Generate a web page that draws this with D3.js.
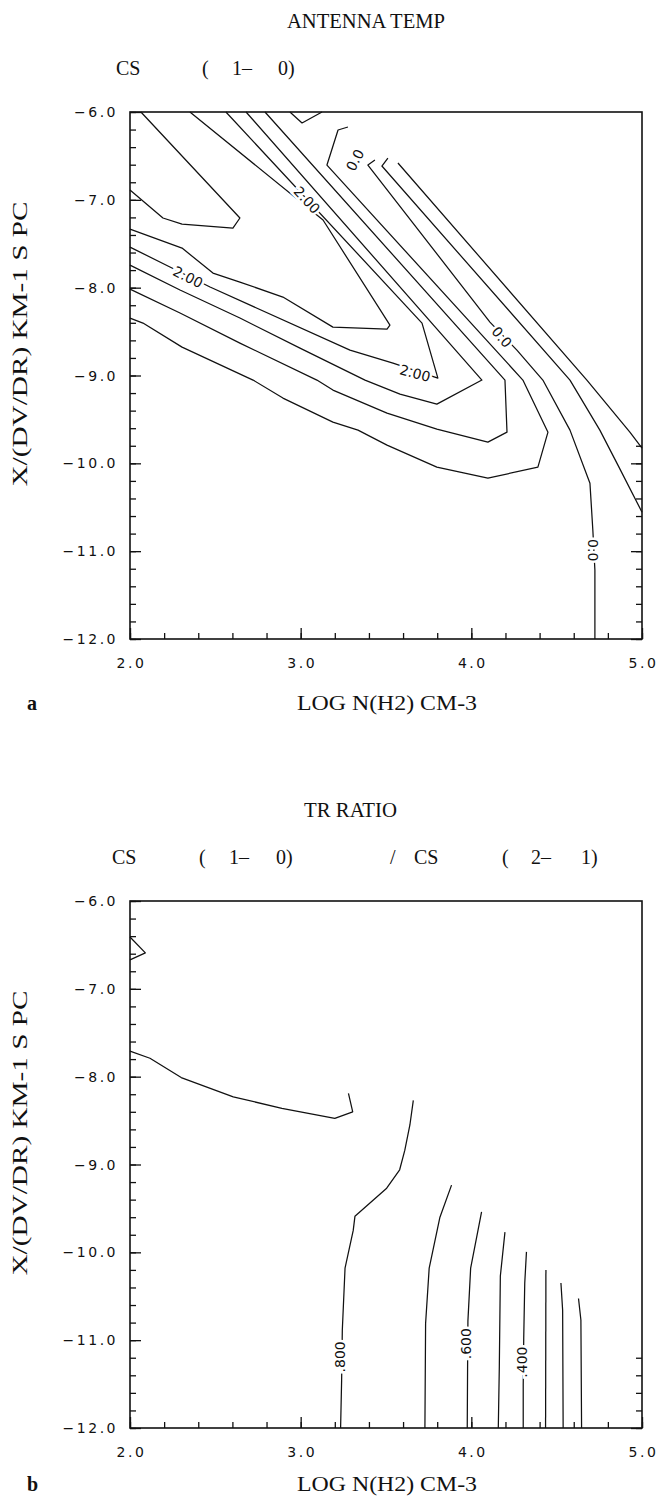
<!DOCTYPE html>
<html>
<head>
<meta charset="utf-8">
<script src="https://cdn.jsdelivr.net/npm/d3@7"></script>
<style>
  body { margin: 0; background: #fff; }
  svg { display: block; }
  .serif { font-family: "Liberation Serif", "DejaVu Serif", serif; fill: #111; font-size: 20px; }
  .tick-lab { font-family: "DejaVu Sans", sans-serif; font-size: 14px; letter-spacing: 2.5px; fill: #111; }
  .clab { font-family: "DejaVu Sans", sans-serif; font-size: 14px; fill: #111;
          stroke: #fff; stroke-width: 5px; paint-order: stroke; }
</style>
</head>
<body>
<div id="chart"></div>
<script>
// axis values, shared by both panels
const xTickValues = [2, 3, 4, 5];
const xTickLabels = ["2.0", "3.0", "4.0", "5.0"];
const yTickValues = [-6, -7, -8, -9, -10, -11, -12];
const yTickLabels = ["\u22126.0", "\u22127.0", "\u22128.0", "\u22129.0", "\u221210.0", "\u221211.0", "\u221212.0"];

// panel a : antenna temperature CS(1-0), contour polylines [log n, log X/(dv/dr)]
const contoursA = [
  [[2.0,-6.888],[2.193,-7.207],[2.305,-7.276],[2.603,-7.321],[2.644,-7.207],[2.064,-6.0]],
  [[2.0,-7.333],[2.305,-7.549],[2.486,-7.834],[2.644,-7.936],[2.896,-8.107],[3.189,-8.449],[3.506,-8.472],[3.523,-8.426],[3.131,-7.230],[2.351,-6.0]],
  [[2.0,-7.538],[2.234,-7.765],[2.469,-7.993],[3.289,-8.711],[3.541,-8.859],[3.804,-9.030],[3.711,-8.403],[2.562,-6.0]],
  [[2.0,-7.743],[2.293,-8.027],[2.644,-8.346],[2.996,-8.688],[3.377,-9.052],[3.582,-9.212],[3.798,-9.326],[4.062,-9.052],[2.680,-6.0]],
  [[2.0,-8.016],[2.293,-8.289],[2.644,-8.631],[3.095,-9.052],[3.189,-9.166],[3.506,-9.428],[3.798,-9.610],[4.097,-9.759],[4.209,-9.645],[4.197,-9.052],[2.791,-6.0]],
  [[2.0,-8.346],[2.076,-8.403],[2.305,-8.677],[2.721,-9.052],[2.896,-9.257],[3.189,-9.531],[3.336,-9.622],[3.506,-9.793],[3.798,-10.043],[4.097,-10.169],[4.390,-10.043],[4.449,-9.645],[4.302,-9.052],[3.154,-6.604],[3.219,-6.205],[3.277,-6.171]],
  [[3.435,-6.547],[3.394,-6.604],[4.109,-8.392],[4.267,-8.711],[4.419,-9.052],[4.578,-9.622],[4.695,-10.226],[4.712,-10.761],[4.724,-11.216],[4.724,-12.0]],
  [[3.511,-6.524],[3.476,-6.615],[4.578,-9.052],[4.753,-9.622],[4.859,-10.020],[5.0,-10.556]],
  [[3.570,-6.581],[4.677,-9.052],[4.929,-9.645],[5.0,-9.827]],
  [[2.937,-6.0],[3.008,-6.125],[3.125,-6.0]]
];
const labelsA = [
  {text: "2.00", at: [2.340,-7.879], rot: 27},
  {text: "2.00", at: [3.037,-7.002], rot: 47},
  {text: "2.00", at: [3.670,-8.973], rot: 15},
  {text: "0.0",  at: [3.318,-6.547], rot: -62},
  {text: "0.0",  at: [4.179,-8.563], rot: 50},
  {text: "0.0",  at: [4.712,-10.989], rot: 90}
];

// panel b : TR ratio CS(1-0)/CS(2-1)
const contoursB = [
  [[2.0,-6.41],[2.09,-6.59],[2.0,-6.67]],
  [[2.0,-7.71],[2.117,-7.79],[2.30,-8.01],[2.605,-8.23],[2.89,-8.36],[3.20,-8.475],[3.305,-8.40],[3.28,-8.19]],
  [[3.234,-12.0],[3.24,-11.455],[3.244,-10.886],[3.26,-10.18],[3.308,-9.75],[3.318,-9.59],[3.504,-9.27],[3.58,-9.06],[3.61,-8.84],[3.64,-8.55],[3.66,-8.27]],
  [[3.728,-12.0],[3.732,-10.81],[3.753,-10.18],[3.816,-9.60],[3.884,-9.235]],
  [[3.976,-12.0],[3.978,-11.32],[3.98,-10.78],[3.996,-10.18],[4.06,-9.54]],
  [[4.158,-12.0],[4.164,-11.30],[4.17,-10.27],[4.197,-9.77]],
  [[4.304,-12.0],[4.304,-11.51],[4.307,-10.98],[4.313,-10.35],[4.323,-9.995]],
  [[4.435,-12.0],[4.437,-10.20]],
  [[4.538,-12.0],[4.535,-10.66],[4.525,-10.35]],
  [[4.646,-12.0],[4.642,-10.77],[4.628,-10.525]]
];
const labelsB = [
  {text: ".800", at: [3.232,-11.19], rot: -90},
  {text: ".600", at: [3.970,-11.04], rot: -90},
  {text: ".400", at: [4.298,-11.25], rot: -90}
];

const W = 658, H = 1496;
const left = 130, right = 642, plotH = 527;

var svg = d3.select("#chart").append("svg")
  .attr("width", W).attr("height", H);

var x = d3.scaleLinear().domain([2, 5]).range([left, right]);

function drawPanel(p, contours, labels) {
  var top = p.top;
  var y = d3.scaleLinear().domain([-6, -12]).range([top, top + plotH]);
  var g = svg.append("g");

  // titles
  g.append("text").attr("class", "serif")
    .attr("x", p.title.x).attr("y", top - 84)
    .attr("textLength", p.title.w).attr("lengthAdjust", "spacingAndGlyphs")
    .text(p.title.text);
  p.subtitle.forEach(function(s) {
    g.append("text").attr("class", "serif")
      .attr("x", s[1]).attr("y", top - 37)
      .text(s[0]);
  });

  // frame
  g.append("rect")
    .attr("x", left).attr("y", top)
    .attr("width", right - left).attr("height", plotH)
    .attr("fill", "none").attr("stroke", "#111").attr("stroke-width", 1.6);

  // ticks, pointing into the plot (right side only shows them low down)
  var minorX = d3.range(2, 5.001, 0.2), minorY = d3.range(-6, -12.001, -0.2);
  var rightMinor = minorY.filter(function(v) { return v <= p.rightFrom + 0.001; });
  var rightMajor = yTickValues.filter(function(v) { return v <= p.rightFrom; });
  var axes = [
    [d3.axisBottom(x).tickValues(minorX).tickSize(-6), "translate(0," + (top + plotH) + ")"],
    [d3.axisBottom(x).tickValues(xTickValues).tickSize(-11), "translate(0," + (top + plotH) + ")"],
    [d3.axisLeft(y).tickValues(minorY).tickSize(-6), "translate(" + left + ",0)"],
    [d3.axisLeft(y).tickValues(yTickValues).tickSize(-11), "translate(" + left + ",0)"],
    [d3.axisRight(y).tickValues(rightMinor).tickSize(-6), "translate(" + right + ",0)"],
    [d3.axisRight(y).tickValues(rightMajor).tickSize(-11), "translate(" + right + ",0)"]
  ];
  axes.forEach(function(a) {
    var ax = g.append("g").attr("transform", a[1]).call(a[0].tickFormat(""));
    ax.select(".domain").remove();
    ax.selectAll("line").attr("stroke", "#111").attr("stroke-width", 1.3);
  });

  // tick labels
  g.selectAll(".xl").data(xTickValues).enter().append("text")
    .attr("class", "tick-lab")
    .attr("x", function(d) { return x(d) + 1.5; })
    .attr("y", top + plotH + 29)
    .attr("text-anchor", "middle")
    .text(function(d, i) { return xTickLabels[i]; });
  g.selectAll(".yl").data(yTickValues).enter().append("text")
    .attr("class", "tick-lab")
    .attr("x", left - 12)
    .attr("y", function(d) { return y(d) + 5; })
    .attr("text-anchor", "end")
    .text(function(d, i) { return yTickLabels[i]; });

  // axis titles
  g.append("text").attr("class", "serif")
    .attr("transform", "translate(27," + (top + 232) + ") rotate(-90)")
    .attr("text-anchor", "middle")
    .attr("textLength", 285).attr("lengthAdjust", "spacingAndGlyphs")
    .text("X/(DV/DR) KM-1 S PC");
  g.append("text").attr("class", "serif")
    .attr("x", 297).attr("y", top + plotH + p.xTitleGap)
    .attr("textLength", 180).attr("lengthAdjust", "spacingAndGlyphs")
    .text("LOG N(H2) CM-3");
  g.append("text").attr("class", "serif")
    .attr("x", 27).attr("y", top + plotH + p.xTitleGap)
    .style("font-weight", "bold")
    .text(p.letter);

  // contour lines
  var line = d3.line()
    .x(function(d) { return x(d[0]); })
    .y(function(d) { return y(d[1]); });
  g.selectAll(".contour").data(contours).enter().append("path")
    .attr("class", "contour")
    .attr("d", line)
    .attr("fill", "none").attr("stroke", "#111").attr("stroke-width", 1.25)
    .attr("stroke-linejoin", "round");

  g.selectAll(".clab").data(labels).enter().append("text")
    .attr("class", "clab")
    .attr("transform", function(d) {
      return "translate(" + x(d.at[0]) + "," + y(d.at[1]) + ") rotate(" + d.rot + ")";
    })
    .attr("text-anchor", "middle").attr("dy", "0.36em")
    .text(function(d) { return d.text; });
}

drawPanel({
  top: 112, letter: "a", xTitleGap: 71, rightFrom: -9.8,
  title: {text: "ANTENNA TEMP", x: 287, w: 158},
  subtitle: [["CS", 116], ["(", 202], ["1\u2013", 232], ["0)", 278]]
}, contoursA, labelsA);

drawPanel({
  top: 901, letter: "b", xTitleGap: 63, rightFrom: -11.2,
  title: {text: "TR RATIO", x: 304, w: 93},
  subtitle: [["CS", 112], ["(", 199], ["1\u2013", 229], ["0)", 276],
             ["/", 390], ["CS", 414], ["(", 502], ["2\u2013", 531], ["1)", 581]]
}, contoursB, labelsB);
</script>
</body>
</html>
